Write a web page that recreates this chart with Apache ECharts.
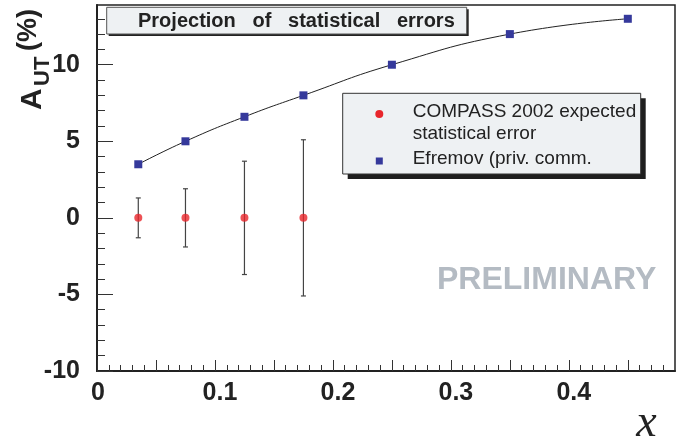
<!DOCTYPE html>
<html>
<head>
<meta charset="utf-8">
<script src="https://cdn.jsdelivr.net/npm/echarts@6/dist/echarts.min.js"></script>
<style>
  html, body { margin: 0; padding: 0; background: #fff; }
  #chart { width: 699px; height: 442px; }
</style>
</head>
<body>
<div id="chart"></div>
<script>
// COMPASS 2002 expected statistical errors (points at zero with error bars)
var compassX = [0.035, 0.075, 0.125, 0.175];
var compassY = [0, 0, 0, 0];
var compassErr = [1.3, 1.9, 3.7, 5.1];

// Efremov prediction (priv. comm.)
var efremovX = [0.035, 0.075, 0.125, 0.175, 0.25, 0.35, 0.45];
var efremovY = [3.5, 5.0, 6.6, 8.0, 10.0, 12.0, 13.0];

// Axis ranges and tick positions
var xRange = [0, 0.49];
var yRange = [-10, 13.9];
var xLabelTicks = [0, 0.1, 0.2, 0.3, 0.4];
var xMajorTicks = [0, 0.05, 0.1, 0.15, 0.2, 0.25, 0.3, 0.35, 0.4, 0.45];
var xMinorTicks = [0.01, 0.02, 0.03, 0.04, 0.06, 0.07, 0.08, 0.09,
  0.11, 0.12, 0.13, 0.14, 0.16, 0.17, 0.18, 0.19,
  0.21, 0.22, 0.23, 0.24, 0.26, 0.27, 0.28, 0.29,
  0.31, 0.32, 0.33, 0.34, 0.36, 0.37, 0.38, 0.39,
  0.41, 0.42, 0.43, 0.44, 0.46, 0.47, 0.48];
var yLabelTicks = [-10, -5, 0, 5, 10];
var yMinorTicks = [-9, -8, -7, -6, -4, -3, -2, -1, 1, 2, 3, 4, 6, 7, 8, 9, 11, 12, 13];

var legendLabels = ['COMPASS 2002 expected', 'statistical error', 'Efremov (priv. comm.'];
var titleText = 'Projection   of   statistical   errors';

var RED = '#e8262b';
var BLUE = '#35399b';
var FONT = '"Liberation Sans", Arial, Helvetica, sans-serif';

var chart = echarts.init(document.getElementById('chart'), null, { renderer: 'canvas' });

var tickLabelStyle = { fontFamily: FONT, fontWeight: 'bold', fontSize: 25, color: '#222' };

var option = {
  animation: false,
  backgroundColor: '#fff',
  grid: {
    left: 97, right: 24, top: 5, bottom: 71,
    show: true, borderColor: '#222', borderWidth: 1.5, backgroundColor: 'transparent'
  },
  xAxis: [{
    type: 'value', min: xRange[0], max: xRange[1], position: 'bottom',
    axisLine: { show: true, onZero: false, lineStyle: { color: '#222', width: 2 } },
    axisTick: { show: true, inside: true, length: 11, customValues: xMajorTicks, lineStyle: { color: '#333', width: 1 } },
    axisLabel: {
      show: true, customValues: xLabelTicks, margin: 10,
      formatter: function (v) { return v === 0 ? '{z|0}' : '{n|' + v + '}'; },
      rich: {
        z: Object.assign({ padding: [0, 0, 0, 2] }, tickLabelStyle),
        n: Object.assign({ padding: [0, 0, 0, 10] }, tickLabelStyle)
      }
    },
    splitLine: { show: false }
  }, {
    type: 'value', min: xRange[0], max: xRange[1], position: 'bottom', offset: 0,
    axisLine: { show: false, onZero: false },
    axisTick: { show: true, inside: true, length: 6, customValues: xMinorTicks, lineStyle: { color: '#333', width: 1 } },
    axisLabel: { show: false },
    splitLine: { show: false }
  }],
  yAxis: [{
    type: 'value', min: yRange[0], max: yRange[1], position: 'left',
    axisLine: { show: true, onZero: false, lineStyle: { color: '#222', width: 2 } },
    axisTick: { show: true, inside: true, length: 16, customValues: yLabelTicks, lineStyle: { color: '#333', width: 1 } },
    axisLabel: Object.assign({ show: true, customValues: yLabelTicks, margin: 17 }, tickLabelStyle),
    splitLine: { show: false }
  }, {
    type: 'value', min: yRange[0], max: yRange[1], position: 'left', offset: 0,
    axisLine: { show: false, onZero: false },
    axisTick: { show: true, inside: true, length: 8, customValues: yMinorTicks, lineStyle: { color: '#333', width: 1 } },
    axisLabel: { show: false },
    splitLine: { show: false }
  }],
  series: [{
    // vertical error bars with small end caps
    type: 'custom',
    xAxisIndex: 0, yAxisIndex: 0,
    data: compassX.map(function (x, i) { return [x, compassY[i], compassErr[i]]; }),
    encode: { x: 0, y: 1 },
    renderItem: function (params, api) {
      var x = api.value(0), y = api.value(1), e = api.value(2);
      var lo = api.coord([x, y - e]);
      var hi = api.coord([x, y + e]);
      var cap = 2.5;
      var st = { stroke: '#444', lineWidth: 1.2 };
      return {
        type: 'group',
        children: [
          { type: 'line', shape: { x1: lo[0], y1: lo[1], x2: hi[0], y2: hi[1] }, style: st },
          { type: 'line', shape: { x1: lo[0] - cap, y1: lo[1], x2: lo[0] + cap, y2: lo[1] }, style: st },
          { type: 'line', shape: { x1: hi[0] - cap, y1: hi[1], x2: hi[0] + cap, y2: hi[1] }, style: st }
        ]
      };
    },
    z: 2
  }, {
    name: legendLabels[0],
    type: 'scatter',
    xAxisIndex: 0, yAxisIndex: 0,
    data: compassX.map(function (x, i) { return [x, compassY[i]]; }),
    symbol: 'circle', symbolSize: 8,
    itemStyle: { color: RED },
    z: 3
  }, {
    name: legendLabels[2],
    type: 'line',
    xAxisIndex: 0, yAxisIndex: 0,
    data: efremovX.map(function (x, i) { return [x, efremovY[i]]; }),
    smooth: true,
    showSymbol: true, symbol: 'rect', symbolSize: 8,
    lineStyle: { color: '#222', width: 1 },
    itemStyle: { color: BLUE },
    z: 4
  }],
  graphic: [
    // title box with drop shadow
    { type: 'rect', shape: { x: 108.7, y: 9.3, width: 360, height: 26.7 }, style: { fill: '#222' }, z: 10 },
    { type: 'rect', shape: { x: 106.7, y: 7.3, width: 360, height: 26.7 }, style: { fill: '#eef1f3', stroke: '#555', lineWidth: 1 }, z: 11 },
    { type: 'text', x: 138, y: 21, z: 12,
      style: { text: titleText, fontFamily: FONT, fontWeight: 'bold', fontSize: 20, fill: '#222', textAlign: 'left', textVerticalAlign: 'middle' } },

    // legend box with drop shadow
    { type: 'rect', shape: { x: 347.7, y: 98.3, width: 298, height: 80.7 }, style: { fill: '#1e1e1e' }, z: 10 },
    { type: 'rect', shape: { x: 342.7, y: 93.3, width: 298, height: 80.7 }, style: { fill: '#eef1f3', stroke: '#333', lineWidth: 1 }, z: 11 },
    { type: 'circle', shape: { cx: 379.3, cy: 114, r: 4 }, style: { fill: RED }, z: 12 },
    { type: 'rect', shape: { x: 375.8, y: 157.5, width: 7, height: 7 }, style: { fill: BLUE }, z: 12 },
    { type: 'text', x: 412.7, y: 112, z: 12,
      style: { text: legendLabels[0], fontFamily: FONT, fontSize: 19, fill: '#222', textAlign: 'left', textVerticalAlign: 'middle' } },
    { type: 'text', x: 412.7, y: 134, z: 12,
      style: { text: legendLabels[1], fontFamily: FONT, fontSize: 19, fill: '#222', textAlign: 'left', textVerticalAlign: 'middle' } },
    { type: 'text', x: 412.7, y: 159, z: 12,
      style: { text: legendLabels[2], fontFamily: FONT, fontSize: 19, fill: '#222', textAlign: 'left', textVerticalAlign: 'middle' } },

    // watermark
    { type: 'text', x: 437, y: 280.5, z: 1,
      style: { text: 'PRELIMINARY', fontFamily: FONT, fontWeight: 'bold', fontSize: 32, fill: '#b4bbc3', textAlign: 'left', textVerticalAlign: 'middle' } },

    // x axis title
    { type: 'text', x: 646.5, y: 424, z: 12,
      style: { text: 'x', fontFamily: '"Liberation Serif", "Times New Roman", serif', fontStyle: 'italic', fontSize: 46, fill: '#222', textAlign: 'center', textVerticalAlign: 'middle' } },

    // y axis title: A_UT (%), reading bottom to top
    { type: 'text', x: 33, y: 110, rotation: Math.PI / 2, z: 12,
      style: { text: 'A', fontFamily: FONT, fontWeight: 'bold', fontSize: 30, fill: '#222', textAlign: 'left', textVerticalAlign: 'middle' } },
    { type: 'text', x: 43, y: 86, rotation: Math.PI / 2, z: 12,
      style: { text: 'UT', fontFamily: FONT, fontWeight: 'bold', fontSize: 22, fill: '#222', textAlign: 'left', textVerticalAlign: 'middle' } },
    { type: 'text', x: 29, y: 51, rotation: Math.PI / 2, z: 12,
      style: { text: '(%)', fontFamily: FONT, fontWeight: 'bold', fontSize: 27, fill: '#222', textAlign: 'left', textVerticalAlign: 'middle' } }
  ]
};

chart.setOption(option);
</script>
</body>
</html>
